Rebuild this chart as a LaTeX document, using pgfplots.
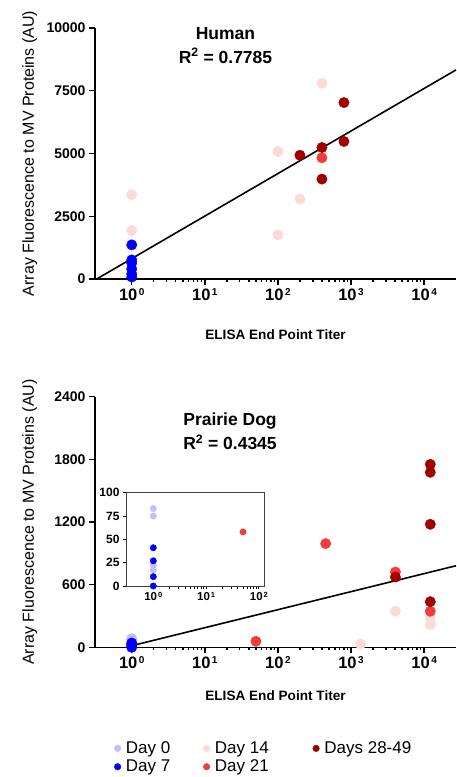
\documentclass[border=0pt]{standalone}
\usepackage{fontspec}
\setmainfont{Liberation Sans}
\usepackage{pgfplots}
\pgfplotsset{compat=1.18}

\definecolor{dzero}{HTML}{BFBFFF}
\definecolor{dseven}{HTML}{0000FF}
\definecolor{dfourteen}{HTML}{FDDADA}
\definecolor{dtwentyone}{HTML}{F23C3C}
\definecolor{dlate}{HTML}{A00000}

% 10 with a raised exponent, GraphPad style
\newcommand\tenpow[1]{10\kern1.5pt\raisebox{4.5pt}{\fontsize{10}{10}\selectfont\bfseries #1}}
\newcommand\tenpows[1]{10\kern1pt\raisebox{3.2pt}{\fontsize{7.5}{7.5}\selectfont\bfseries #1}}

\begin{document}
\begin{tikzpicture}

% ---------- Human ----------
\begin{axis}[at={(95pt,498pt)}, anchor=south west,
  scale only axis, width=361pt, height=251pt,
  xmode=log, xmin=0.3145, xmax=27300,
  ymin=0, ymax=10000, ytick={0,2500,5000,7500,10000},
  axis x line=bottom, axis y line=left,
  axis line style={-, line width=1.6pt},
  tick align=outside, major tick length=6pt,
  tick style={line width=1.4pt, black},
  minor x tick num=0, clip=false,
  xtick={1,10,100,1000,10000},
  xticklabels={\tenpow{0},\tenpow{1},\tenpow{2},\tenpow{3},\tenpow{4}},
  x tick label style={font=\bfseries\fontsize{16.5}{16.5}\selectfont},
  y tick label style={font=\bfseries\fontsize{14}{14}\selectfont},
  yticklabel style={/pgf/number format/assume math mode=true, /pgf/number format/1000 sep={}},
  scaled y ticks=false,
  xlabel={ELISA End Point Titer},
  ylabel={Array Fluorescence to MV Proteins (AU)},
  xlabel style={font=\bfseries\fontsize{13.6}{13.6}\selectfont, at={(axis description cs:0.5,-0.22)}, anchor=center},
  ylabel style={font=\fontsize{16}{16}\selectfont, at={(axis description cs:-0.181,0.5)}, anchor=center},
  title={Human\\R\textsuperscript{2} = 0.7785},
  title style={font=\bfseries\fontsize{17.5}{24}\selectfont, align=center, anchor=center, at={(axis description cs:0.3615,0.908)}},
]
\addplot[black, line width=1.6pt, mark=none] coordinates {(0.332,0) (27300,8330)};
\addplot[only marks, mark=*, mark size=5.2pt, color=dseven] coordinates {(1,1360) (1,760) (1,640) (1,400) (1,200) (1,80)};
\addplot[only marks, mark=*, mark size=5.2pt, color=dfourteen] coordinates {(1,3360) (1,1930) (100,5080) (100,1755) (200,3190) (400,7800)};
\addplot[only marks, mark=*, mark size=5.2pt, color=dtwentyone] coordinates {(400,4830)};
\addplot[only marks, mark=*, mark size=5.2pt, color=dlate] coordinates {(200,4930) (400,5240) (400,3980) (800,7030) (800,5480)};
\end{axis}

% ---------- Prairie Dog ----------
\begin{axis}[at={(95pt,129.7pt)}, anchor=south west,
  scale only axis, width=361pt, height=250.6pt,
  xmode=log, xmin=0.3145, xmax=27300,
  ymin=0, ymax=2400, ytick={0,600,1200,1800,2400},
  axis x line=bottom, axis y line=left,
  axis line style={-, line width=1.6pt},
  tick align=outside, major tick length=6pt,
  tick style={line width=1.4pt, black},
  minor x tick num=0, clip=false,
  xtick={1,10,100,1000,10000},
  xticklabels={\tenpow{0},\tenpow{1},\tenpow{2},\tenpow{3},\tenpow{4}},
  x tick label style={font=\bfseries\fontsize{16.5}{16.5}\selectfont},
  y tick label style={font=\bfseries\fontsize{14}{14}\selectfont},
  yticklabel style={/pgf/number format/assume math mode=true, /pgf/number format/1000 sep={}},
  scaled y ticks=false,
  xlabel={ELISA End Point Titer},
  ylabel={Array Fluorescence to MV Proteins (AU)},
  xlabel style={font=\bfseries\fontsize{13.6}{13.6}\selectfont, at={(axis description cs:0.5,-0.194)}, anchor=center},
  ylabel style={font=\fontsize{16}{16}\selectfont, at={(axis description cs:-0.181,0.5)}, anchor=center},
  title={Prairie Dog\\R\textsuperscript{2} = 0.4345},
  title style={font=\bfseries\fontsize{17.5}{24}\selectfont, align=center, anchor=center, at={(axis description cs:0.374,0.839)}},
  legend columns=3,
  legend cell align=left,
  legend style={draw=none, fill=none, inner sep=0pt,
    at={(axis description cs:0.053,-0.44)}, anchor=west,
    font=\fontsize{17}{17}\selectfont, row sep=1pt,
    /tikz/column 1/.style={column sep=3pt},
    /tikz/column 2/.style={column sep=31pt},
    /tikz/column 3/.style={column sep=3pt},
    /tikz/column 4/.style={column sep=42pt},
    /tikz/column 5/.style={column sep=3pt}},
]
\addplot[black, line width=1.6pt, mark=none, forget plot] coordinates {(1,15) (27300,781)};
\addplot[only marks, mark=*, mark size=5.2pt, color=dzero, forget plot] coordinates {(1,83) (1,75) (1,22) (1,17)};
\addplot[only marks, mark=*, mark size=5.2pt, color=dseven, forget plot] coordinates {(1,41) (1,27) (1,10) (1,0)};
\addplot[only marks, mark=*, mark size=5.2pt, color=dfourteen, forget plot] coordinates {(1350,32) (4050,345) (12150,275) (12150,218)};
\addplot[only marks, mark=*, mark size=5.2pt, color=dtwentyone, forget plot] coordinates {(50,57) (450,993) (4050,721) (12150,345)};
\addplot[only marks, mark=*, mark size=5.2pt, color=dlate, forget plot] coordinates {(4050,673) (12150,1752) (12150,1676) (12150,1178) (12150,437)};
\addlegendimage{only marks, mark=*, mark size=3.3pt, color=dzero}
\addlegendentry{Day 0}
\addlegendimage{only marks, mark=*, mark size=3.3pt, color=dfourteen}
\addlegendentry{Day 14}
\addlegendimage{only marks, mark=*, mark size=3.3pt, color=dlate}
\addlegendentry{Days 28-49}
\addlegendimage{only marks, mark=*, mark size=3.3pt, color=dseven}
\addlegendentry{Day 7}
\addlegendimage{only marks, mark=*, mark size=3.3pt, color=dtwentyone}
\addlegendentry{Day 21}
\end{axis}

% ---------- inset ----------
\begin{axis}[at={(126pt,191pt)}, anchor=south west,
  scale only axis, width=138.3pt, height=93.3pt,
  xmode=log, xmin=0.304, xmax=126.5, ymin=0, ymax=100,
  axis line style={line width=0.9pt, black!75},
  tick align=outside, major tick length=3pt,
  tick style={line width=0.9pt, black},
  xtick pos=left, ytick pos=left, minor x tick num=0, clip=false,
  xtick={1,10,100}, xticklabels={\tenpows{0},\tenpows{1},\tenpows{2}},
  ytick={0,25,50,75,100},
  x tick label style={font=\bfseries\fontsize{11.5}{11.5}\selectfont},
  y tick label style={font=\bfseries\fontsize{12}{12}\selectfont},
  yticklabel style={/pgf/number format/assume math mode=true},
  axis background/.style={fill=white},
]
\addplot[only marks, mark=*, mark size=3.2pt, color=dzero] coordinates {(1,83) (1,75) (1,22) (1,17)};
\addplot[only marks, mark=*, mark size=3.2pt, color=dseven] coordinates {(1,41) (1,27) (1,10) (1,0)};
\addplot[only marks, mark=*, mark size=3.2pt, color=dtwentyone] coordinates {(50,58)};
\end{axis}

\pgfresetboundingbox
\useasboundingbox (0pt,0pt) rectangle (456pt,777pt);
\end{tikzpicture}
\end{document}
